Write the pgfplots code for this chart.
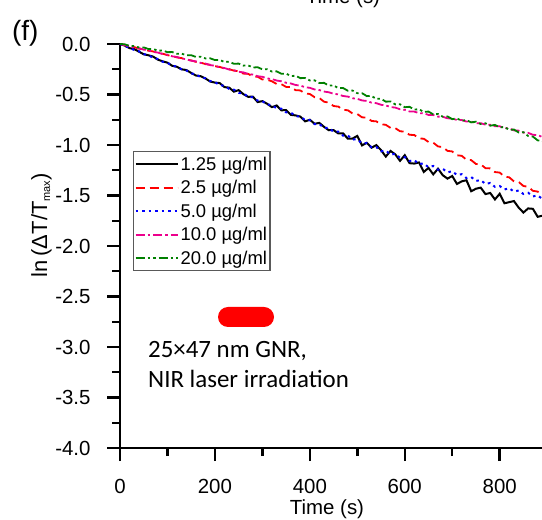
\documentclass[border=0pt]{standalone}
\usepackage{fontspec}
\setmainfont{Liberation Sans}
\newfontfamily\calibri{Carlito}
\usepackage{pgfplots}
\pgfplotsset{compat=1.18}
\definecolor{mygreen}{RGB}{0,128,0}
\begin{document}
\begin{tikzpicture}[x=1bp,y=1bp]
\useasboundingbox (0,0) rectangle (542,520);
\clip (0,0) rectangle (542,520);
\begin{axis}[
  at={(120bp,72bp)}, anchor=south west,
  scale only axis, width=474.6bp, height=404bp,
  xmin=0, xmax=1000, ymin=-4, ymax=0,
  axis lines=left, axis line style={-, line width=2.4bp},
  clip=false,
  tick align=outside,
  major tick length=13bp, minor tick length=8bp,
  every tick/.style={line width=2.4bp, black},
  xtick={0,200,400,600,800},
  xticklabels={0,200,400,600,800},
  minor xtick={100,300,500,700},
  ytick={-4,-3.5,-3,-2.5,-2,-1.5,-1,-0.5,0},
  yticklabels={-4.0,-3.5,-3.0,-2.5,-2.0,-1.5,-1.0,-0.5,0.0},
  minor y tick num=1,
  tick label style={font=\fontsize{20.5}{24}\selectfont},
  xticklabel style={yshift=-15bp},
  yticklabel style={xshift=-13bp},
  legend style={at={(axis cs:27.4,-1.059)}, anchor=north west,
    draw=black!65, line width=1.2bp, fill=white,
    font=\fontsize{18.5}{20}\selectfont, inner sep=1bp, row sep=0pt,
    nodes={inner ysep=4.3bp, inner xsep=2bp}},
  legend cell align=left,
  legend image code/.code={\draw[#1] (0bp,0bp) -- (42bp,0bp);},
]
\addplot[black, line width=2bp] table {
0 0
10 -0.016
20 -0.041
30 -0.051
40 -0.076
50 -0.102
60 -0.112
70 -0.125
80 -0.156
90 -0.172
100 -0.185
110 -0.216
120 -0.226
130 -0.251
140 -0.258
150 -0.287
160 -0.312
170 -0.319
180 -0.341
190 -0.372
200 -0.382
210 -0.387
220 -0.427
230 -0.432
240 -0.472
250 -0.457
260 -0.497
270 -0.523
280 -0.521
290 -0.575
300 -0.566
310 -0.592
320 -0.625
330 -0.609
340 -0.657
350 -0.654
360 -0.702
370 -0.707
380 -0.719
390 -0.766
400 -0.750
410 -0.790
420 -0.781
430 -0.821
440 -0.854
450 -0.853
460 -0.886
470 -0.884
480 -0.938
490 -0.936
500 -0.910
510 -1.004
520 -0.978
530 -1.027
540 -1.001
550 -1.051
560 -1.115
570 -1.059
580 -1.093
590 -1.157
600 -1.101
610 -1.180
620 -1.184
630 -1.173
640 -1.267
650 -1.227
660 -1.291
670 -1.235
680 -1.299
690 -1.333
700 -1.307
710 -1.386
720 -1.360
730 -1.349
740 -1.458
750 -1.433
760 -1.422
770 -1.486
780 -1.475
790 -1.539
800 -1.483
810 -1.577
820 -1.566
830 -1.555
840 -1.620
850 -1.669
860 -1.628
870 -1.632
880 -1.711
890 -1.700
900 -1.704
};
\addlegendentry{1.25 µg/ml}
\addplot[red, line width=1.8bp, dash pattern=on 9bp off 5bp] table {
0 0
10 -0.009
20 -0.024
30 -0.031
40 -0.046
50 -0.053
60 -0.067
70 -0.074
80 -0.090
90 -0.096
100 -0.111
110 -0.118
120 -0.133
130 -0.140
140 -0.155
150 -0.162
160 -0.177
170 -0.184
180 -0.199
190 -0.206
200 -0.220
210 -0.227
220 -0.242
230 -0.249
240 -0.264
250 -0.270
260 -0.293
270 -0.296
280 -0.322
290 -0.324
300 -0.352
310 -0.354
320 -0.369
330 -0.396
340 -0.398
350 -0.425
360 -0.427
370 -0.457
380 -0.460
390 -0.490
400 -0.495
410 -0.527
420 -0.535
430 -0.572
440 -0.580
450 -0.614
460 -0.620
470 -0.652
480 -0.656
490 -0.688
500 -0.694
510 -0.726
520 -0.729
530 -0.762
540 -0.766
550 -0.795
560 -0.800
570 -0.831
580 -0.833
590 -0.864
600 -0.868
610 -0.899
620 -0.901
630 -0.935
640 -0.938
650 -0.970
660 -0.977
670 -1.014
680 -1.021
690 -1.058
700 -1.064
710 -1.102
720 -1.107
730 -1.146
740 -1.150
750 -1.188
760 -1.192
770 -1.229
780 -1.232
790 -1.268
800 -1.273
810 -1.313
820 -1.320
830 -1.360
840 -1.366
850 -1.406
860 -1.414
870 -1.454
880 -1.461
890 -1.501
900 -1.508
};
\addlegendentry{2.5 µg/ml}
\addplot[blue, line width=2bp, dash pattern=on 2.5bp off 4bp] table {
0 0
10 -0.023
20 -0.034
30 -0.061
40 -0.072
50 -0.100
60 -0.111
70 -0.138
80 -0.149
90 -0.176
100 -0.187
110 -0.214
120 -0.225
130 -0.252
140 -0.263
150 -0.291
160 -0.301
170 -0.329
180 -0.340
190 -0.367
200 -0.378
210 -0.407
220 -0.414
230 -0.445
240 -0.452
250 -0.484
260 -0.490
270 -0.522
280 -0.528
290 -0.561
300 -0.566
310 -0.600
320 -0.603
330 -0.638
340 -0.641
350 -0.677
360 -0.679
370 -0.715
380 -0.717
390 -0.754
400 -0.755
410 -0.793
420 -0.792
430 -0.832
440 -0.830
450 -0.870
460 -0.868
470 -0.908
480 -0.906
490 -0.946
500 -0.944
510 -0.985
520 -0.982
530 -1.023
540 -1.020
550 -1.062
560 -1.055
570 -1.095
580 -1.087
590 -1.127
600 -1.120
610 -1.159
620 -1.150
630 -1.189
640 -1.182
650 -1.221
660 -1.208
670 -1.245
680 -1.235
690 -1.271
700 -1.259
710 -1.298
720 -1.289
730 -1.328
740 -1.317
750 -1.356
760 -1.347
770 -1.386
780 -1.376
790 -1.414
800 -1.406
810 -1.441
820 -1.427
830 -1.462
840 -1.450
850 -1.485
860 -1.473
870 -1.509
880 -1.499
890 -1.535
900 -1.523
};
\addlegendentry{5.0 µg/ml}
\addplot[color=magenta, line width=1.8bp, dash pattern=on 9bp off 3bp on 2.5bp off 3bp] table {
0 0
10 -0.013
20 -0.020
30 -0.035
40 -0.042
50 -0.056
60 -0.063
70 -0.078
80 -0.085
90 -0.100
100 -0.107
110 -0.122
120 -0.129
130 -0.144
140 -0.151
150 -0.166
160 -0.172
170 -0.187
180 -0.194
190 -0.209
200 -0.216
210 -0.231
220 -0.238
230 -0.253
240 -0.260
250 -0.275
260 -0.281
270 -0.297
280 -0.303
290 -0.319
300 -0.325
310 -0.341
320 -0.347
330 -0.362
340 -0.369
350 -0.384
360 -0.391
370 -0.406
380 -0.412
390 -0.428
400 -0.434
410 -0.450
420 -0.456
430 -0.471
440 -0.478
450 -0.493
460 -0.499
470 -0.515
480 -0.521
490 -0.537
500 -0.543
510 -0.559
520 -0.564
530 -0.581
540 -0.586
550 -0.602
560 -0.608
570 -0.624
580 -0.630
590 -0.646
600 -0.652
610 -0.668
620 -0.669
630 -0.685
640 -0.686
650 -0.702
660 -0.703
670 -0.719
680 -0.720
690 -0.736
700 -0.737
710 -0.753
720 -0.753
730 -0.768
740 -0.768
750 -0.784
760 -0.784
770 -0.799
780 -0.799
790 -0.814
800 -0.815
810 -0.833
820 -0.836
830 -0.855
840 -0.858
850 -0.877
860 -0.880
870 -0.899
880 -0.902
890 -0.921
900 -0.924
};
\addlegendentry{10.0 µg/ml}
\addplot[mygreen, line width=1.8bp, dash pattern=on 9bp off 3bp on 2.5bp off 3bp on 2.5bp off 3bp] table {
0 0
10 -0.003
20 -0.019
30 -0.019
40 -0.035
50 -0.034
60 -0.050
70 -0.050
80 -0.066
90 -0.065
100 -0.081
110 -0.080
120 -0.097
130 -0.096
140 -0.112
150 -0.111
160 -0.128
170 -0.126
180 -0.143
190 -0.142
200 -0.159
210 -0.158
220 -0.178
230 -0.176
240 -0.196
250 -0.194
260 -0.214
270 -0.212
280 -0.233
290 -0.230
300 -0.251
310 -0.250
320 -0.273
330 -0.271
340 -0.295
350 -0.293
360 -0.317
370 -0.315
380 -0.338
390 -0.337
400 -0.361
410 -0.360
420 -0.386
430 -0.385
440 -0.412
450 -0.410
460 -0.437
470 -0.436
480 -0.463
490 -0.461
500 -0.488
510 -0.487
520 -0.516
530 -0.515
540 -0.543
550 -0.542
560 -0.571
570 -0.569
580 -0.598
590 -0.597
600 -0.626
610 -0.622
620 -0.649
630 -0.646
640 -0.673
650 -0.669
660 -0.697
670 -0.693
680 -0.720
690 -0.717
700 -0.744
710 -0.737
720 -0.760
730 -0.753
740 -0.776
750 -0.769
760 -0.792
770 -0.785
780 -0.809
790 -0.801
800 -0.825
810 -0.822
820 -0.850
830 -0.847
840 -0.876
850 -0.873
860 -0.911
870 -0.917
880 -0.954
890 -0.960
900 -0.998
};
\addlegendentry{20.0 µg/ml}
\end{axis}
\node[anchor=base, inner sep=0pt, font=\fontsize{20.5}{24}\selectfont] at (327,5) {Time (s)};
\node[anchor=base, inner sep=0pt, font=\fontsize{20.5}{24}\selectfont] at (343,516) {Time (s)};
\node[anchor=base, rotate=90, inner sep=0pt, font=\fontsize{22}{26}\selectfont] at (47,295) {ln\,(ΔT/T\textsubscript{\fontsize{11}{12}\selectfont max})};
\node[anchor=base west, inner sep=0pt, font=\fontsize{28}{32}\selectfont] at (12,479) {(f)};
\fill[red] (228,193) -- (264,193) arc[start angle=-90, end angle=90, radius=10] -- (228,213) arc[start angle=90, end angle=270, radius=10] -- cycle;
\node[anchor=base west, inner sep=0pt, font=\calibri\fontsize{25}{30}\selectfont] at (148,162) {25×47 nm GNR,};
\node[anchor=base west, inner sep=0pt, font=\calibri\fontsize{25}{30}\selectfont] at (148,132) {NIR laser irradiation};
\end{tikzpicture}
\end{document}
